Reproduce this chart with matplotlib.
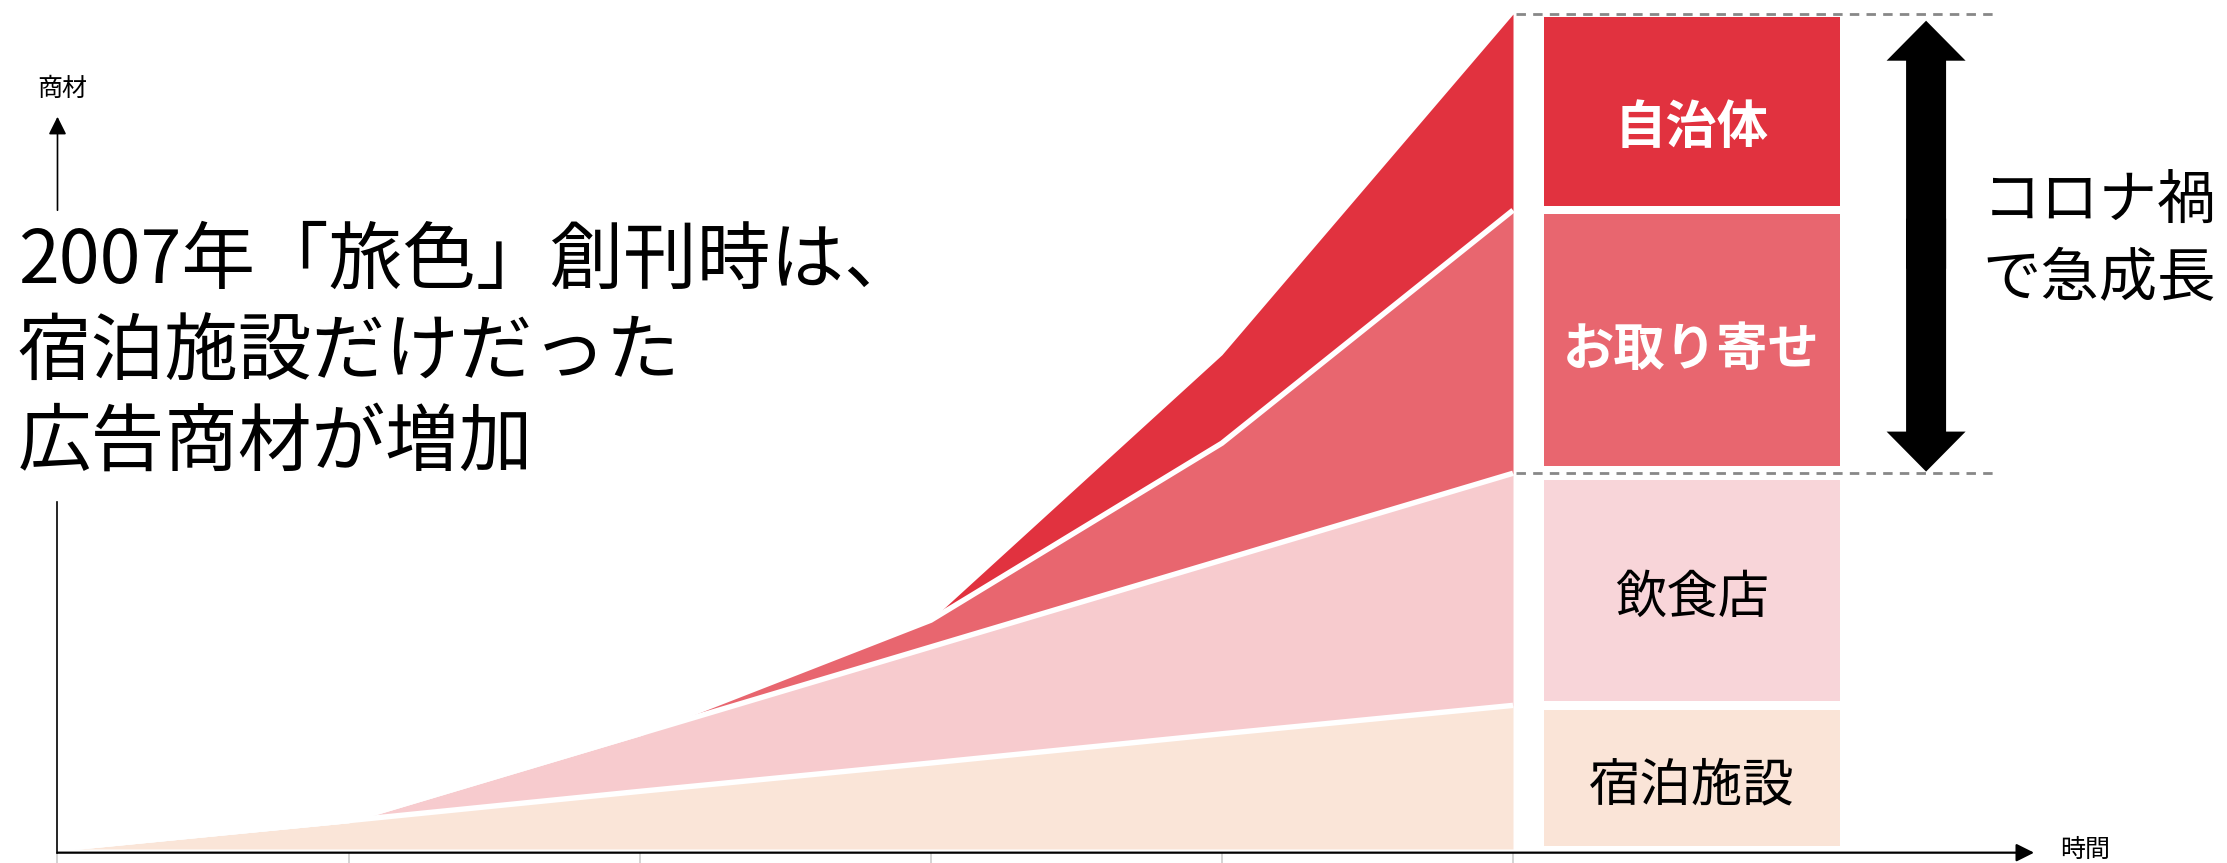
import matplotlib.pyplot as plt
import numpy as np

plt.rcParams['font.family'] = ['Noto Sans CJK JP', 'DejaVu Sans']

# time steps along the x axis (no labels on the ticks)
time_steps = [0, 1, 2, 3, 4, 5]

# ad inventory per category (stacked, arbitrary units, total = 100 at the end)
lodging = [0, 3.4, 6.9, 10.3, 13.8, 17.2]
restaurants = [0, 0, 6.9, 13.9, 20.8, 27.8]
mail_order = [0, 0, 0, 3.2, 14.0, 31.5]
municipality = [0, 0, 0, 0, 10.6, 23.5]

categories = ['宿泊施設', '飲食店', 'お取り寄せ', '自治体']
series = [lodging, restaurants, mail_order, municipality]

area_colors = ['#FAE5D8', '#F7CBCE', '#E8666F', '#E1323F']
box_colors = ['#FAE4D7', '#F8D5D9', '#E8666F', '#E1323F']
text_colors = ['black', 'black', 'white', 'white']
text_weights = ['normal', 'normal', 'bold', 'bold']
label_shift = [-0.9, -0.9, -1.1, -1.9]

title_lines = ['2007年「旅色」創刊時は、', '宿泊施設だけだった', '広告商材が増加']
side_lines = ['コロナ禍', 'で急成長']

fig = plt.figure(figsize=(22.27, 8.63), dpi=100)
ax = fig.add_axes([0, 0, 1, 1])
ax.set_xlim(-0.1975, 7.4527)
ax.set_ylim(-1.677, 101.68)
ax.axis('off')

# stacked areas with white separators
x = np.array(time_steps)
tops = np.cumsum(np.array(series), axis=0)
bottoms = np.vstack([np.zeros(len(x)), tops[:-1]])
for i in range(len(series)):
    ax.fill_between(x, bottoms[i], tops[i], color=area_colors[i], lw=0, zorder=1)
for i in range(len(series) - 1):
    ax.plot(x, tops[i], color='white', lw=3.9, solid_capstyle='butt', zorder=2)

# boxes on the right with the final shares
final = tops[:, -1]
box_x = 5.614
box_w = 1.016
lo_gap = [0.3, 0.5, 0.85, 0.5]
hi_gap = [0.5, 0.85, 0.5, 0.35]
for i, name in enumerate(categories):
    b0 = (final[i - 1] if i > 0 else 0) + lo_gap[i]
    b1 = final[i] - hi_gap[i]
    ax.bar(box_x, b1 - b0, bottom=b0, width=box_w, color=box_colors[i], lw=0, zorder=1)
    ax.text(box_x, (b0 + b1) / 2 + label_shift[i], name, ha='center', va='center',
            fontsize=37, color=text_colors[i], fontweight=text_weights[i], zorder=3)

# dashed guides for the covid growth span
for yv in [final[-1], final[1]]:
    ax.plot([5.01, 6.66], [yv, yv], color='#888888', lw=2, dashes=(3.4, 2.6), zorder=2)

# double arrow (two heads drawn from the middle, overlapping a bit)
arrow_x = 6.419
mid = (final[-1] + final[1]) / 2
for end, start in [(final[-1] - 0.8, mid - 3), (final[1] + 0.2, mid + 3)]:
    ax.arrow(arrow_x, start, 0, end - start, width=0.1374, head_width=0.2714,
             head_length=4.79, length_includes_head=True, color='black', lw=0, zorder=3)

for k, line in enumerate(side_lines):
    ax.text(6.612, 77.5 - k * 9.35, line, ha='left', va='center', fontsize=42)

# axes with arrows
ax.vlines(time_steps, -1.677, -0.44, color='#cccccc', lw=1.2, zorder=1)
ax.annotate('', xy=(6.79, -0.44), xytext=(0, -0.44),
            arrowprops=dict(arrowstyle='-|>', lw=1.6, color='black', mutation_scale=27,
                            shrinkA=0, shrinkB=0), zorder=4)
ax.plot([0, 0], [-0.44, 41.6], color='black', lw=1.2, zorder=4)
ax.annotate('', xy=(0, 87.7), xytext=(0, 76.5),
            arrowprops=dict(arrowstyle='-|>', lw=1.2, color='black', mutation_scale=27,
                            shrinkA=0, shrinkB=0), zorder=4)
ax.text(0.017, 91.0, '商材', ha='center', va='center', fontsize=18)
ax.text(6.879, -0.1, '時間', ha='left', va='center', fontsize=18)

# headline
for k, line in enumerate(title_lines):
    ax.text(-0.137, 70.3 - k * 10.9, line, ha='left', va='center', fontsize=53, zorder=5)

fig.savefig('out.png', dpi=100)
